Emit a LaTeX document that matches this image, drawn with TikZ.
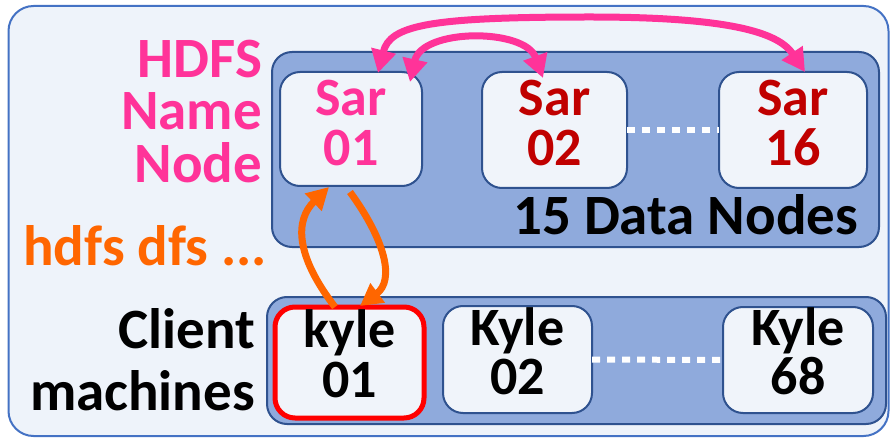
\documentclass[tikz,border=0pt]{standalone}
\usepackage{fontspec}
\setmainfont{Carlito}
\usetikzlibrary{arrows.meta}
\definecolor{outerfill}{HTML}{EEF3FA}
\definecolor{outerdraw}{HTML}{4472C4}
\definecolor{panelfill}{HTML}{8FAADC}
\definecolor{paneldraw}{HTML}{2F528F}
\definecolor{boxfill}{HTML}{F0F4FA}
\definecolor{hpink}{HTML}{FF3399}
\definecolor{sarred}{HTML}{C00000}
\definecolor{horange}{HTML}{FF6600}
\definecolor{hred}{HTML}{FF0000}
\tikzset{
  txt/.style={font=\fontsize{54}{50}\selectfont\bfseries, inner sep=0pt, outer sep=0pt},
  bigtxt/.style={font=\fontsize{57}{52}\selectfont\bfseries, inner sep=0pt, outer sep=0pt},
  panel/.style={draw=paneldraw, line width=2pt, fill=panelfill, rounded corners=20pt, inner sep=0pt, outer sep=0pt},
  srv/.style={draw=paneldraw, line width=2pt, fill=boxfill, rounded corners=20pt, inner sep=0pt, outer sep=0pt},
  dotline/.style={draw=white, line width=6pt, dash pattern=on 8pt off 7pt},
  pinkarrow/.style={draw=hpink, line width=7pt, {Triangle[length=23pt,width=24pt]}-{Triangle[length=23pt,width=24pt]}},
  orangearrow/.style={draw=horange, line width=7pt, -{Triangle[length=22pt,width=23pt]}},
}
\begin{document}
\begin{tikzpicture}[x=1pt,y=-1pt]
\useasboundingbox (0,0) rectangle (890,438);
% outer frame
\node[draw=outerdraw, line width=2pt, fill=outerfill, rounded corners=25pt,
      minimum width=880pt, minimum height=430pt, inner sep=0pt] (outer) at (448.5,221) {};
% panels
\node[panel, minimum width=607pt, minimum height=195pt] (toppanel) at (575.5,149.5) {};
\node[panel, minimum width=619pt, minimum height=127pt] (botpanel) at (576.5,360.5) {};
% data node boxes
\node[srv, minimum width=142pt, minimum height=114pt] (s1) at (351,129) {};
\node[srv, minimum width=145pt, minimum height=116pt] (s2) at (554.5,130) {};
\node[srv, minimum width=148pt, minimum height=116pt] (s3) at (793,130) {};
\node[txt, text=hpink, anchor=base] (s1a) at (351,116) {Sar};
\node[txt, text=hpink, anchor=base] (s1b) at (351,166) {01};
\node[txt, text=sarred, anchor=base] (s2a) at (554.5,116) {Sar};
\node[txt, text=sarred, anchor=base] (s2b) at (554.5,166) {02};
\node[txt, text=sarred, anchor=base] (s3a) at (793,116) {Sar};
\node[txt, text=sarred, anchor=base] (s3b) at (793,166) {16};
\draw[dotline] (s2.east) -- (s3.west);
\node[bigtxt, anchor=base east] (dn) at (858,234) {15 Data Nodes};
% client boxes
\node[srv, draw=hred, line width=5pt, minimum width=149pt, minimum height=111pt] (k1) at (349.5,362.5) {};
\node[srv, minimum width=149pt, minimum height=107pt] (k2) at (517.5,359.5) {};
\node[srv, minimum width=150pt, minimum height=106pt] (k3) at (798,360) {};
\node[txt, anchor=base] (k1a) at (349.5,347) {kyle};
\node[txt, anchor=base] (k1b) at (349.5,397) {01};
\node[txt, anchor=base] (k2a) at (517.5,345) {Kyle};
\node[txt, anchor=base] (k2b) at (517.5,394) {02};
\node[txt, anchor=base] (k3a) at (798,345) {Kyle};
\node[txt, anchor=base] (k3b) at (798,394) {68};
\draw[dotline] (k2.east) -- (k3.west);
% left labels
\node[bigtxt, text=hpink, anchor=base east] (l1) at (262,78) {HDFS};
\node[bigtxt, text=hpink, anchor=base east] (l2) at (262,130) {Name};
\node[bigtxt, text=hpink, anchor=base east] (l3) at (262,183) {Node};
\node[bigtxt, text=horange, anchor=base east] (l4) at (267,265) {hdfs dfs ...};
\node[bigtxt, anchor=base east] (l5) at (255,348) {Client};
\node[bigtxt, anchor=base east] (l6) at (255,410) {machines};
% arrow end points
\coordinate (pa) at (378,73);
\coordinate (pt) at (590,17);
\coordinate (pb) at (805,72);
\coordinate (pc) at (410,82);
\coordinate (pd) at (543,78);
\coordinate (oa) at (335,307);
\coordinate (ob) at (329,187);
\coordinate (oc) at (350,192);
\coordinate (od) at (360,306);
\draw[pinkarrow] (pa) .. controls (390,25) and (430,17) .. (pt)
                      .. controls (740,17) and (780,35) .. (pb);
\draw[pinkarrow] (pc) .. controls (422,28) and (525,28) .. (pd);
\draw[orangearrow] (oa) .. controls (295,255) and (295,220) .. (ob);
\draw[orangearrow] (oc) .. controls (385,240) and (395,280) .. (od);
\end{tikzpicture}
\end{document}
